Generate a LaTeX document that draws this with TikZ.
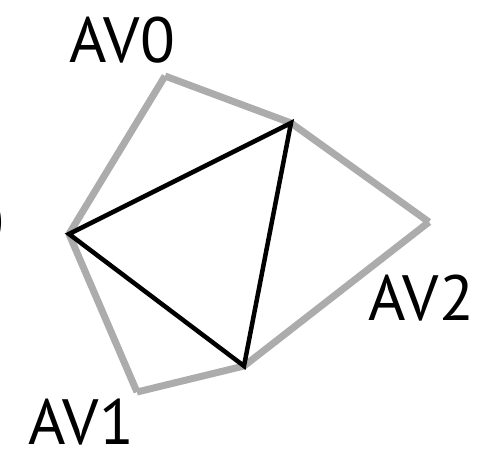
\documentclass[tikz,border=0pt]{standalone}
\usepackage{fontspec}
\setmainfont{PT Sans}
\begin{document}
\begin{tikzpicture}[x=1pt, y=-1pt, every node/.style={font=\fontsize{64}{64}\selectfont, inner sep=0pt}]
  \useasboundingbox (0,0) rectangle (479,451);

  % 頂点の設定
  \coordinate (L) at (69,234);
  \coordinate (T) at (291,123);
  \coordinate (B) at (244,366);
  \coordinate (P0) at (165,76);
  \coordinate (P2) at (429,222);
  \coordinate (P1) at (137,392);

  % 外側の灰色の辺
  \foreach \s/\e in {L/P0, P0/T, T/P2, P2/B, B/P1, P1/L}
    \draw[gray!65, line width=7pt] (\s) -- (\e);

  % 三角形の描画
  \draw[line width=4.5pt, line join=miter] (L) -- (T) -- (B) -- cycle;

  % ラベル
  \node[anchor=base west] (av0) at (69,62) {AV0};
  \node[anchor=base west] (av2) at (368,320) {AV2};
  \node[anchor=base west] (av1) at (28,444) {AV1};
  \node[anchor=base east] (paren) at (6,238) {)};

\end{tikzpicture}
\end{document}
